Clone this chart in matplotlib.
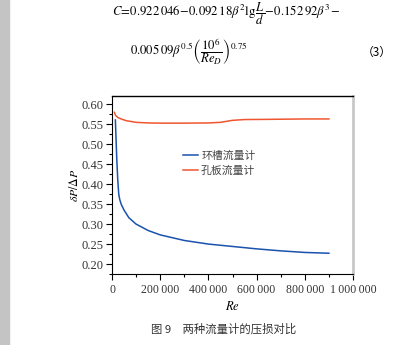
import matplotlib
matplotlib.use('Agg')
import matplotlib.pyplot as plt
from matplotlib.patches import Rectangle
from matplotlib.ticker import MultipleLocator, FuncFormatter

plt.rcParams['font.family'] = ['Liberation Serif', 'Noto Sans CJK SC']
plt.rcParams['mathtext.fontset'] = 'stix'

# 压损比数据
re_ring = [14000, 17000, 20000, 24000, 28000, 32000, 38000, 50000, 70000, 100000,
           150000, 200000, 300000, 400000, 500000, 600000, 700000, 800000, 900000]
dp_ring = [0.561, 0.51, 0.46, 0.41, 0.375, 0.362, 0.350, 0.335, 0.316, 0.300,
           0.284, 0.273, 0.259, 0.250, 0.244, 0.238, 0.233, 0.229, 0.227]

re_orifice = [10000, 15000, 25000, 40000, 60000, 100000, 150000, 200000, 300000,
              400000, 450000, 500000, 550000, 650000, 800000, 900000]
dp_orifice = [0.580, 0.572, 0.567, 0.563, 0.559, 0.555, 0.5535, 0.553, 0.553,
              0.5535, 0.555, 0.560, 0.562, 0.5625, 0.5635, 0.5635]

labels = ['环槽流量计', '孔板流量计']
x_ticks = [0, 200000, 400000, 600000, 800000, 1000000]
y_ticks = [0.20, 0.25, 0.30, 0.35, 0.40, 0.45, 0.50, 0.55, 0.60]

fig = plt.figure(figsize=(3.98, 3.45), dpi=100)
fig.patches.append(Rectangle((0, 0), 9 / 398, 1, transform=fig.transFigure,
                             color='#c4c4c4', zorder=0))

# 公式 (3)
fig.text(112 / 398, 1 - 14 / 345,
         r'$C\!=\!0.922\,046\!-\!0.092\,18\beta^2\mathrm{lg}\,\dfrac{L}{d}\!-\!0.152\,92\beta^3\!-$',
         fontsize=9.2, va='center', ha='left')
fig.text(130 / 398, 1 - 52 / 345,
         r'$0.005\,09\beta^{0.5}\left(\dfrac{10^6}{Re_D}\right)^{0.75}$',
         fontsize=9.2, va='center', ha='left')
fig.text(362 / 398, 1 - 52 / 345, '（3）', fontsize=8.5, va='center', ha='left',
         family=['Noto Sans CJK SC'])

ax = fig.add_axes([112 / 398, 1 - 274 / 345, 241 / 398, 178 / 345])
ax.plot(re_ring, dp_ring, color='#1a52ad', lw=1.1, label=labels[0])
ax.plot(re_orifice, dp_orifice, color='#ef5530', lw=1.1, label=labels[1])

ax.set_xlim(0, 1000000)
ax.set_ylim(0.175, 0.621)
ax.set_xticks(x_ticks)
ax.set_yticks(y_ticks)
ax.xaxis.set_minor_locator(MultipleLocator(100000))
ax.yaxis.set_minor_locator(MultipleLocator(0.025))
ax.xaxis.set_major_formatter(FuncFormatter(lambda v, p: f'{int(v):,}'.replace(',', '\u2009')))
ax.yaxis.set_major_formatter(FuncFormatter(lambda v, p: f'{v:.2f}'))
ax.tick_params(which='major', direction='out', length=4, width=0.8, labelsize=9, pad=2)
ax.tick_params(axis='x', which='major', labelsize=8.5, pad=3)
ax.tick_params(which='minor', direction='out', length=2, width=0.8)
for lab in ax.get_xticklabels() + ax.get_yticklabels():
    lab.set_color('#333333')

ax.spines['right'].set_color('#c8c8c8')
ax.spines['right'].set_linewidth(2)
ax.spines['top'].set_linewidth(1)

ax.set_xlabel('$Re$', fontsize=9)
ax.xaxis.set_label_coords(0.5, -0.145)
ax.set_ylabel(r'$\delta P/\Delta P$', fontsize=8.5)
ax.yaxis.set_label_coords(-0.13, 0.5)

leg = ax.legend(loc='upper left', bbox_to_anchor=(0.255, 0.75), frameon=False,
                prop={'family': 'Noto Sans CJK SC', 'size': 7.8},
                handlelength=1.35, handletextpad=0.3, labelspacing=0.45)
for t in leg.get_texts():
    t.set_color('#444444')

fig.text(224 / 398, 1 - 329 / 345, '图 9　两种流量计的压损对比', fontsize=8.2,
         ha='center', va='center', family=['Noto Sans CJK SC'], color='#333333')

fig.savefig('out.png', dpi=100)
